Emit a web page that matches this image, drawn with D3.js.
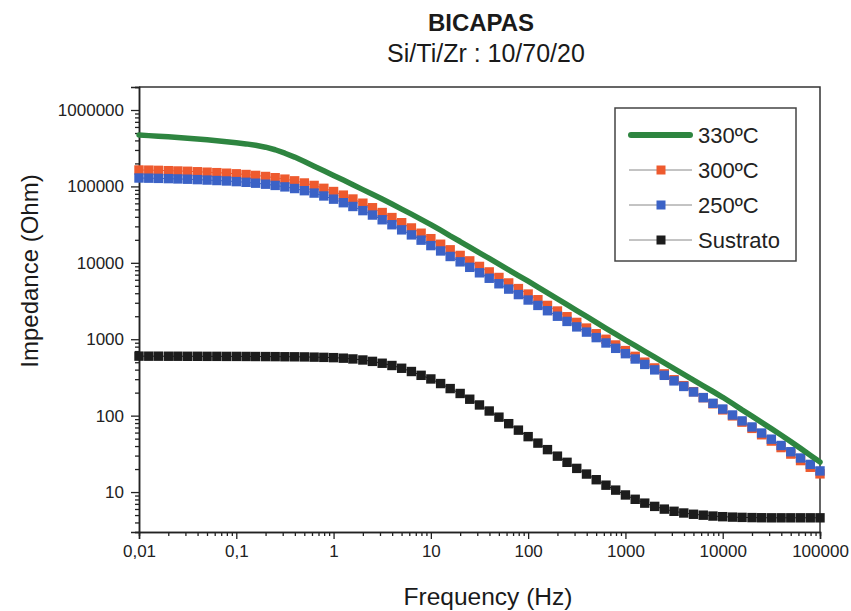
<!DOCTYPE html>
<html>
<head>
<meta charset="utf-8">
<script src="https://cdn.jsdelivr.net/npm/d3@7"></script>
<style>
  html, body { margin: 0; padding: 0; background: #fff; }
  svg { display: block; font-family: "Liberation Sans", Arial, sans-serif; }
</style>
</head>
<body>
<svg id="chart" width="851" height="611"></svg>
<script>
// ---------------- DATA ----------------
const title = "BICAPAS";
const subtitle = "Si/Ti/Zr : 10/70/20";
const xLabel = "Frequency (Hz)";
const yLabel = "Impedance (Ohm)";
const seriesNames = ["330ºC", "300ºC", "250ºC", "Sustrato"];

const xTicks = [0.01, 0.1, 1, 10, 100, 1000, 10000, 100000];
const xTickLabels = ["0,01", "0,1", "1", "10", "100", "1000", "10000", "100000"];
const yTicks = [10, 100, 1000, 10000, 100000, 1000000];
const yTickLabels = ["10", "100", "1000", "10000", "100000", "1000000"];

const freq = [0.01,0.0126,0.0158,0.02,0.0251,0.0316,0.0398,0.0501,0.0631,0.0794,
  0.1,0.126,0.158,0.2,0.251,0.316,0.398,0.501,0.631,0.794,
  1,1.26,1.58,2,2.51,3.16,3.98,5.01,6.31,7.94,
  10,12.6,15.8,20,25.1,31.6,39.8,50.1,63.1,79.4,
  100,126,158,200,251,316,398,501,631,794,
  1000,1260,1580,2000,2510,3160,3980,5010,6310,7940,
  10000,12600,15800,20000,25100,31600,39800,50100,63100,79400,
  100000];

const z330 = [471000,462000,454000,446000,437000,428000,418000,407000,396000,385000,
  373000,360000,345000,326000,302000,272000,242000,212000,184000,160000,
  139000,121000,105000,90800,78900,68400,58900,50500,43300,37000,
  31600,26700,22500,19000,16000,13500,11400,9600,8090,6820,
  5750,4820,4040,3380,2830,2370,1990,1660,1390,1170,
  977,822,692,582,490,412,347,292,245,207,
  174,144,119,98.6,81.7,67.6,55.7,45.7,37.3,30.4,
  24.7];

const z300 = [164000,163300,162200,160700,159200,157800,155600,153500,151400,148900,
  146200,143200,139300,134900,130000,124500,118300,110900,103000,94400,
  85700,76900,68400,60300,52600,45500,39100,33500,28600,24400,
  20700,17500,14800,12500,10600,8970,7600,6430,5450,4600,
  3900,3290,2770,2340,1970,1660,1400,1180,998,841,
  710,597,501,421,352,295,247,206,172,143,
  119,99.3,82.2,68.1,56.2,46.5,38.2,31.4,25.8,21.1,
  17.3];

const z250 = [128800,128200,127400,126500,125300,124200,122700,121100,119400,117800,
  115600,113200,110200,106900,103000,98600,93800,87900,81800,75000,
  68100,61200,54600,48200,42200,36600,31500,27000,23200,19800,
  16800,14300,12100,10300,8730,7400,6280,5320,4530,3840,
  3260,2770,2360,2000,1710,1450,1240,1050,893,760,
  647,551,468,397,337,285,241,204,172,145,
  122,102,85.3,71.1,59.2,49.2,40.7,33.7,27.9,23.0,
  18.9];

const zSustrato = [601,600,600,599,599,598,598,597,597,596,
  596,595,594,593,592,590,589,587,583,579,
  574,565,552,535,513,485,453,417,378,337,
  302,263,226,195,164,138,115,95.5,78.5,64.6,
  53.1,43.7,35.9,29.5,24.5,20.4,17.2,14.5,12.3,10.6,
  9.16,8.04,7.16,6.49,5.98,5.60,5.32,5.12,4.98,4.85,
  4.76,4.70,4.66,4.63,4.61,4.60,4.60,4.60,4.60,4.60,
  4.60];

// ---------------- STYLE / LAYOUT ----------------
const colors = { g330: "#2e8540", r300: "#ee5a2e", b250: "#3b62c6", sub: "#1c1c1c" };
const plot = { left: 139, right: 820, top: 87, bottom: 532 };
const fontFam = '"Liberation Sans", Arial, sans-serif';

const svg = d3.select("#chart");

const x = d3.scaleLog().domain([0.01, 100000]).range([plot.left, plot.right]);
const y = d3.scaleLog().domain([3, 2000000]).range([plot.bottom, plot.top]);

// Titles
svg.append("text").attr("x", 481).attr("y", 31).attr("text-anchor", "middle")
  .attr("font-size", 24).attr("font-weight", "bold").attr("fill", "#1a1a1a").text(title);
svg.append("text").attr("x", 486).attr("y", 62).attr("text-anchor", "middle")
  .attr("font-size", 25).attr("fill", "#1a1a1a").text(subtitle);

// Frame (top / right)
svg.append("path")
  .attr("d", `M${plot.left},${plot.top}H${plot.right}V${plot.bottom}`)
  .attr("fill", "none").attr("stroke", "#333").attr("stroke-width", 1.5);

// Minor ticks
const xMinor = [];
for (const t of xTicks.slice(0, -1)) for (let k = 2; k <= 9; k++) xMinor.push(t * k);
const yMinor = [];
[1, 10, 100, 1000, 10000, 100000, 1000000].forEach(t => {
  for (let k = 2; k <= 9; k++) { const v = t * k; if (v >= 3 && v <= 2000000) yMinor.push(v); }
});

const xAxisMinor = d3.axisBottom(x).tickValues(xMinor).tickSize(4).tickFormat("");
const yAxisMinor = d3.axisLeft(y).tickValues(yMinor).tickSize(4).tickFormat("");
const xAxis = d3.axisBottom(x).tickValues(xTicks).tickSize(7).tickPadding(6)
  .tickFormat((d, i) => xTickLabels[i]);
const yAxis = d3.axisLeft(y).tickValues(yTicks).tickSize(8).tickPadding(7)
  .tickFormat((d, i) => yTickLabels[i]);

function styleAxis(g) {
  g.select(".domain").attr("stroke", "#222").attr("stroke-width", 1.5);
  g.selectAll(".tick line").attr("stroke", "#222").attr("stroke-width", 1.3);
  g.selectAll(".tick text").attr("fill", "#222").attr("font-size", 17).attr("font-family", fontFam);
}

svg.append("g").attr("transform", `translate(0,${plot.bottom})`).call(xAxisMinor).call(styleAxis);
svg.append("g").attr("transform", `translate(${plot.left},0)`).call(yAxisMinor).call(styleAxis);
svg.append("g").attr("transform", `translate(0,${plot.bottom})`).call(xAxis).call(styleAxis);
svg.append("g").attr("transform", `translate(${plot.left},0)`).call(yAxis).call(styleAxis);

// Axis labels
svg.append("text").attr("x", 488).attr("y", 605).attr("text-anchor", "middle")
  .attr("font-size", 24.5).attr("fill", "#1a1a1a").text(xLabel);
svg.append("text").attr("transform", "translate(38,271) rotate(-90)").attr("text-anchor", "middle")
  .attr("font-size", 24).attr("fill", "#1a1a1a").text(yLabel);

// Series
const line = d3.line().x(d => x(d[0])).y(d => y(d[1]));
const MS = 9.4;

function squareSeries(vals, color) {
  const pts = freq.map((f, i) => [f, vals[i]]);
  const g = svg.append("g");
  g.append("path").attr("d", line(pts)).attr("fill", "none").attr("stroke", color).attr("stroke-width", 1);
  g.selectAll("rect").data(pts).enter().append("rect")
    .attr("x", d => x(d[0]) - MS / 2).attr("y", d => y(d[1]) - MS / 2)
    .attr("width", MS).attr("height", MS).attr("fill", color);
}

squareSeries(zSustrato, colors.sub);
squareSeries(z300, colors.r300);
squareSeries(z250, colors.b250);

svg.append("path").attr("d", line(freq.map((f, i) => [f, z330[i]])))
  .attr("fill", "none").attr("stroke", colors.g330).attr("stroke-width", 5.5)
  .attr("stroke-linejoin", "round").attr("stroke-linecap", "round");

// Legend
const lg = svg.append("g");
lg.append("rect").attr("x", 615).attr("y", 108).attr("width", 181).attr("height", 153)
  .attr("fill", "#fff").attr("stroke", "#444").attr("stroke-width", 1.5);
const legendColors = [colors.g330, colors.r300, colors.b250, colors.sub];
const legendY = [135, 170, 205, 240];
seriesNames.forEach((name, i) => {
  const cy = legendY[i];
  if (i === 0) {
    lg.append("line").attr("x1", 631).attr("x2", 690).attr("y1", cy).attr("y2", cy)
      .attr("stroke", legendColors[i]).attr("stroke-width", 6).attr("stroke-linecap", "round");
  } else {
    lg.append("line").attr("x1", 629).attr("x2", 692).attr("y1", cy).attr("y2", cy)
      .attr("stroke", "#888").attr("stroke-width", 1);
    lg.append("rect").attr("x", 661 - 4.5).attr("y", cy - 4.5).attr("width", 9).attr("height", 9)
      .attr("fill", legendColors[i]);
  }
  lg.append("text").attr("x", 698).attr("y", cy + 8).attr("font-size", 22)
    .attr("fill", "#222").text(name);
});
</script>
</body>
</html>
